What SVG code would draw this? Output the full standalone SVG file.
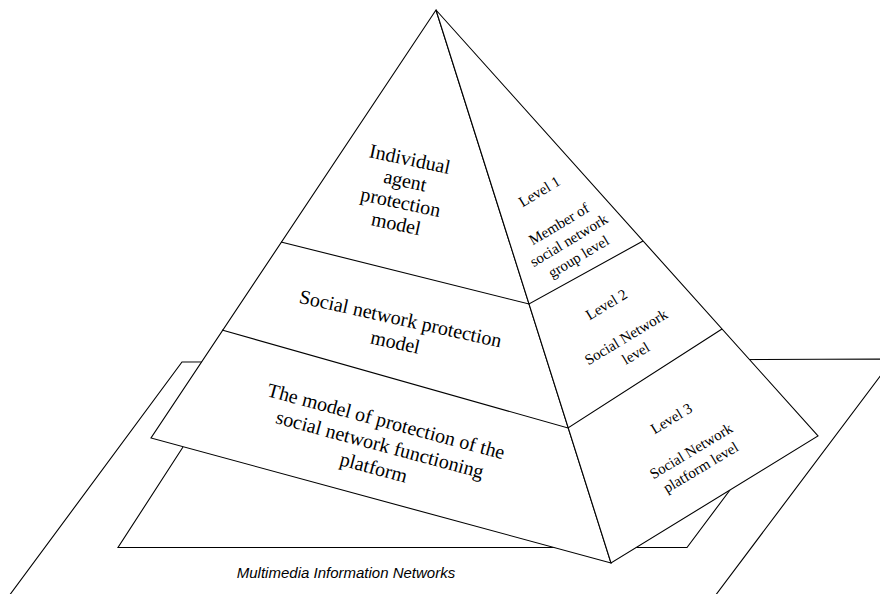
<svg xmlns="http://www.w3.org/2000/svg" width="880" height="594" viewBox="0 0 880 594">
<style>
.ln{fill:none;stroke:#000;stroke-width:1.1;stroke-linejoin:miter}
.face{fill:#fff;stroke:#000;stroke-width:1.1;stroke-linejoin:miter}
.big{font-family:"Liberation Serif","Times New Roman",serif;font-size:20px;fill:#000;text-anchor:middle}
.sm{font-family:"Liberation Serif","Times New Roman",serif;font-size:15px;fill:#000;text-anchor:middle}
.cap{font-family:"Liberation Sans",Arial,sans-serif;font-size:15px;font-style:italic;fill:#000;text-anchor:middle}
</style>
<rect width="880" height="594" fill="#fff"/>
<g id="base-planes">
<polyline class="ln" points="6,600 182,362 893,359 712,600"/>
<polyline class="ln" points="183,447 118,547.5 687,547.5 730,490"/>
</g>
<g id="pyramid">
<polygon class="face" points="436,10 151,438 611,563"/>
<polygon class="face" points="436,10 611,563 818,436"/>
</g>
<g id="connectors">
<polyline class="ln" points="281,242 529,304 643,241"/>
<polyline class="ln" points="222,330 568,428 722,329"/>
</g>
<g id="tier1">
<text class="big" transform="translate(403,191) rotate(12)"><tspan x="0" y="-26">Individual</tspan><tspan x="0" y="-4">agent</tspan><tspan x="0" y="18">protection</tspan><tspan x="0" y="40">model</tspan></text>
</g>
<g id="tier2">
<text class="big" transform="translate(398,330) rotate(12.5)"><tspan x="0" y="-5">Social network protection</tspan><tspan x="0" y="19">model</tspan></text>
</g>
<g id="tier3">
<text class="big" transform="translate(380,444) rotate(15)"><tspan x="0" y="-17">The model of protection of the</tspan><tspan x="0" y="7">social network functioning</tspan><tspan x="0" y="31">platform</tspan></text>
</g>
<g id="level1">
<text class="sm" transform="translate(559,224) rotate(-31)"><tspan x="0" y="-33">Level 1</tspan><tspan x="0" y="5">Member of</tspan><tspan x="0" y="24">social network</tspan><tspan x="0" y="43">group level</tspan></text>
</g>
<g id="level2">
<text class="sm" transform="translate(626,337) rotate(-31)"><tspan x="0" y="-33">Level 2</tspan><tspan x="0" y="5">Social Network</tspan><tspan x="0" y="24">level</tspan></text>
</g>
<g id="level3">
<text class="sm" transform="translate(691,451) rotate(-31)"><tspan x="0" y="-33">Level 3</tspan><tspan x="0" y="5">Social Network</tspan><tspan x="0" y="24">platform level</tspan></text>
</g>
<g id="caption">
<text class="cap" x="346" y="578">Multimedia Information Networks</text>
</g>
</svg>
